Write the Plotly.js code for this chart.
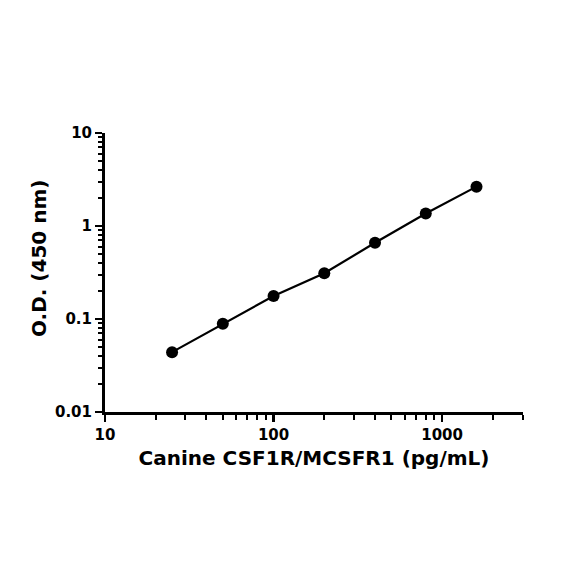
<!DOCTYPE html>
<html>
<head>
<meta charset="utf-8">
<script src="https://cdn.plot.ly/plotly-3.0.1.min.js"></script>
<style>html,body{margin:0;padding:0;background:#fff;}</style>
</head>
<body>
<div id="chart" style="width:584px;height:584px;"></div>
<script>
const concentrations = [25, 50, 100, 200, 400, 800, 1600];
const odValues = [0.044, 0.089, 0.177, 0.31, 0.66, 1.36, 2.65];
const xTickVals = [10, 100, 1000];
const xTickText = ['10', '100', '1000'];
const yTickVals = [0.01, 0.1, 1, 10];
const yTickText = ['0.01', '0.1', '1', '10'];
const xTitle = 'Canine CSF1R/MCSFR1 (pg/mL)';
const yTitle = 'O.D. (450 nm)';

const fontFam = 'DejaVu Sans, sans-serif';

const trace = {
  x: concentrations,
  y: odValues,
  type: 'scatter',
  mode: 'lines+markers',
  line: {color: '#000', width: 2.2},
  marker: {color: '#000', size: 12},
  showlegend: false
};

const layout = {
  width: 584,
  height: 584,
  margin: {l: 105, r: 61, t: 133, b: 172},
  paper_bgcolor: '#fff',
  plot_bgcolor: '#fff',
  xaxis: {
    type: 'log',
    range: [1, 3.48],
    tickvals: xTickVals,
    ticktext: xTickText,
    ticks: 'outside',
    ticklen: 7,
    tickwidth: 2.5,
    tickcolor: '#000',
    showline: true,
    linewidth: 3,
    linecolor: '#000',
    showgrid: false,
    zeroline: false,
    tickfont: {family: fontFam, size: 15, color: '#000', weight: 'bold'},
    minor: {ticks: 'outside', ticklen: 5, tickwidth: 2, tickcolor: '#000', dtick: 'D1', showgrid: false},
    title: {text: xTitle, font: {family: fontFam, size: 20, color: '#000', weight: 'bold'}, standoff: 8}
  },
  yaxis: {
    type: 'log',
    range: [-2, 1],
    tickvals: yTickVals,
    ticktext: yTickText,
    ticks: 'outside',
    ticklen: 7,
    tickwidth: 2.5,
    tickcolor: '#000',
    showline: true,
    linewidth: 3,
    linecolor: '#000',
    showgrid: false,
    zeroline: false,
    tickfont: {family: fontFam, size: 15, color: '#000', weight: 'bold'},
    minor: {ticks: 'outside', ticklen: 4, tickwidth: 2, tickcolor: '#000', dtick: 'D1', showgrid: false}
  },
  annotations: [{
    text: yTitle,
    xref: 'paper', yref: 'paper',
    x: -0.158, y: 0.552,
    xanchor: 'center', yanchor: 'middle',
    textangle: -90,
    showarrow: false,
    font: {family: fontFam, size: 20, color: '#000', weight: 'bold'}
  }]
};

Plotly.newPlot('chart', [trace], layout, {displayModeBar: false, staticPlot: true});
</script>
</body>
</html>
